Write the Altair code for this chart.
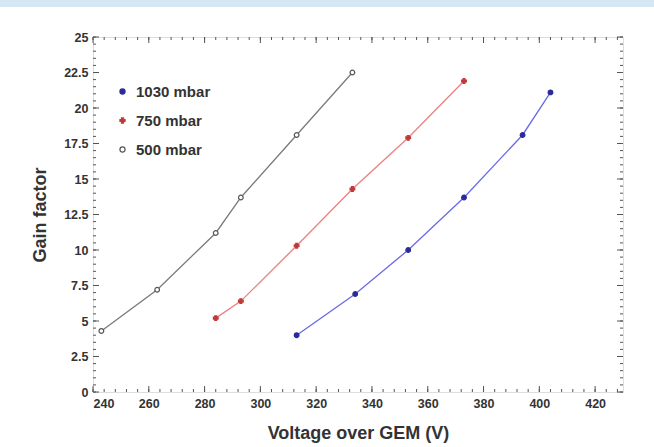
import altair as alt
import pandas as pd

# ---- data ----
series_names = ["1030 mbar", "750 mbar", "500 mbar"]

v_1030 = [313, 334, 353, 373, 394, 404]
g_1030 = [4.0, 6.9, 10.0, 13.7, 18.1, 21.1]

v_750 = [284, 293, 313, 333, 353, 373]
g_750 = [5.2, 6.4, 10.3, 14.3, 17.9, 21.9]

v_500 = [243, 263, 284, 293, 313, 333]
g_500 = [4.3, 7.2, 11.2, 13.7, 18.1, 22.5]

x_major = [240, 260, 280, 300, 320, 340, 360, 380, 400, 420]
x_minor = list(range(240, 431, 4))
y_major = [0, 2.5, 5, 7.5, 10, 12.5, 15, 17.5, 20, 22.5, 25]
y_minor = [i * 0.5 for i in range(0, 51)]

line_colors = ["#6a6ae6", "#ee7f7f", "#7a7a7a"]
mark_stroke = ["#2a2a9a", "#c03a3a", "#555555"]
mark_fill = ["#2a2a9a", "#c03a3a", "#ffffff"]
mark_shape = ["circle", "cross", "circle"]

rows = []
for name, vs, gs in [("1030 mbar", v_1030, g_1030), ("750 mbar", v_750, g_750), ("500 mbar", v_500, g_500)]:
    for v, g in zip(vs, gs):
        rows.append({"series": name, "V": v, "G": g})
df = pd.DataFrame(rows)

W, H = 530, 355
FONT = "Liberation Sans"

xscale = alt.Scale(domain=[240, 430], nice=False, zero=False)
yscale = alt.Scale(domain=[0, 25], nice=False)

xaxis = alt.Axis(values=x_major, title="Voltage over GEM (V)", tickSize=0, domain=False, grid=False,
                 labelFontSize=12.5, labelFontWeight="bold", labelColor="#333", labelFont=FONT,
                 labelPadding=5, labelOverlap=False, titleFont=FONT, titleFontSize=18,
                 titleFontWeight="bold", titleColor="#333", titlePadding=15)
yaxis = alt.Axis(values=y_major, labelExpr="'' + datum.value", title="Gain factor", tickSize=0,
                 domain=False, grid=False,
                 labelFontSize=12.5, labelFontWeight="bold", labelColor="#333", labelFont=FONT,
                 labelPadding=5, labelOverlap=False, titleFont=FONT, titleFontSize=18,
                 titleFontWeight="bold", titleColor="#333", titlePadding=14)

X = alt.X("V:Q", scale=xscale, axis=xaxis, title="Voltage over GEM (V)")
Y = alt.Y("G:Q", scale=yscale, axis=yaxis, title="Gain factor")

base = alt.Chart(df)

line_layers = [
    base.transform_filter(alt.datum.series == name).mark_line(strokeWidth=1.3, color=c).encode(x=X, y=Y)
    for name, c in zip(series_names, line_colors)
]

legend = alt.Legend(title=None, orient="none", legendX=22, legendY=47, labelFont=FONT,
                    labelFontSize=15, labelFontWeight="bold", labelColor="#333", rowPadding=13,
                    symbolSize=26, symbolStrokeWidth=1.2, labelOffset=6)

points = base.mark_point(size=22, strokeWidth=1.2, opacity=1).encode(
    x=X,
    y=Y,
    shape=alt.Shape("series:N", scale=alt.Scale(domain=series_names, range=mark_shape), legend=legend, title=None),
    fill=alt.Fill("series:N", scale=alt.Scale(domain=series_names, range=mark_fill), legend=legend, title=None),
    stroke=alt.Stroke("series:N", scale=alt.Scale(domain=series_names, range=mark_stroke), legend=legend, title=None),
)

tick_color = "#555"
xmaj = pd.DataFrame({"t": x_major})
xmin = pd.DataFrame({"t": x_minor})
ymaj = pd.DataFrame({"t": y_major})
ymin = pd.DataFrame({"t": y_minor})

TX = alt.X("t:Q", scale=xscale, axis=xaxis, title="Voltage over GEM (V)")
TY = alt.Y("t:Q", scale=yscale, axis=yaxis, title="Gain factor")

def xticks(d, length):
    b = alt.Chart(d).mark_rule(color=tick_color, strokeWidth=1)
    bottom = b.encode(x=TX, y=alt.value(H), y2=alt.value(H - length))
    top = b.encode(x=TX, y=alt.value(0), y2=alt.value(length))
    return [bottom, top]

def yticks(d, length):
    b = alt.Chart(d).mark_rule(color=tick_color, strokeWidth=1)
    left = b.encode(y=TY, x=alt.value(0), x2=alt.value(length))
    right = b.encode(y=TY, x=alt.value(W), x2=alt.value(W - length))
    return [left, right]

band = alt.Chart(pd.DataFrame({"a": [0]})).mark_rect(color="#d4e7f2").encode(
    x=alt.value(-93), x2=alt.value(561), y=alt.value(-37), y2=alt.value(-30)
)

chart = alt.layer(
    band,
    *xticks(xmin, 3), *xticks(xmaj, 6), *yticks(ymin, 3), *yticks(ymaj, 6),
    *line_layers, points,
).properties(
    width=W, height=H,
    autosize=alt.AutoSizeParams(type="none"),
    padding={"left": 93, "top": 37, "right": 31, "bottom": 55},
).configure_view(stroke="#444", strokeWidth=1.2).configure(background="white")

chart.save("out.html", embed_options={"renderer": "svg", "actions": False})
